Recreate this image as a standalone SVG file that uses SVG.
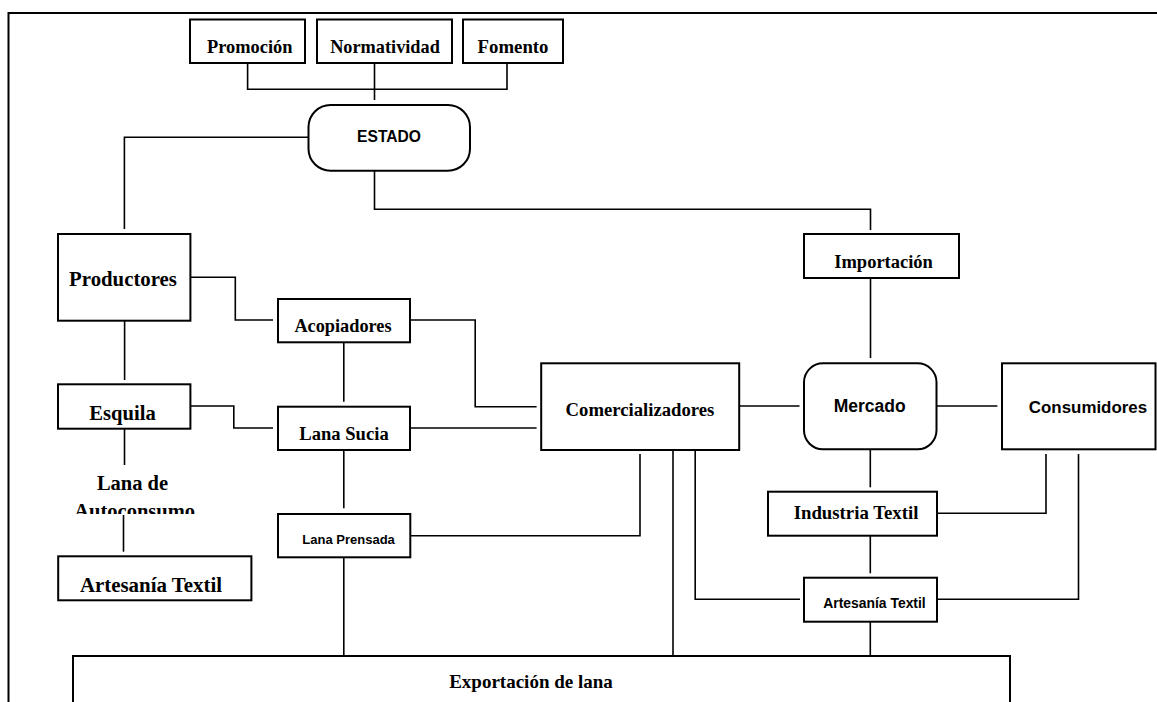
<svg xmlns="http://www.w3.org/2000/svg" width="1157" height="702" viewBox="0 0 1157 702">
<style>
.bx{fill:#fff;stroke:#000;stroke-width:2}
.ln{fill:none;stroke:#000;stroke-width:1.6}
.fr{fill:none;stroke:#000;stroke-width:2}
.t{font-family:"Liberation Serif","Times New Roman",serif;font-weight:bold;fill:#000;text-anchor:middle}
.s{font-family:"Liberation Sans",Arial,sans-serif;font-weight:bold;fill:#000;text-anchor:middle}
</style>
<defs>
<clipPath id="clipAuto"><rect x="0" y="0" width="400" height="514"/></clipPath>
</defs>
<rect width="1157" height="702" fill="#fff"/>
<path class="fr" d="M8.5,702 V13 H1157"/>
<g id="connectors">
<path class="ln" d="M247.6,63 V89.3 H507 V63"/>
<path class="ln" d="M374.5,63 V100"/>
<path class="ln" d="M308,137.3 H124.4 V229"/>
<path class="ln" d="M374.5,171 V209.3 H870.5 V230"/>
<path class="ln" d="M870.5,278 V358"/>
<path class="ln" d="M190,277.3 H235.3 V320 H273"/>
<path class="ln" d="M410,320 H475.2 V406.7 H536.6"/>
<path class="ln" d="M343.8,342 V401.7"/>
<path class="ln" d="M124.6,321 V380"/>
<path class="ln" d="M190,406 H233.8 V428 H273"/>
<path class="ln" d="M410,428 H536.6"/>
<path class="ln" d="M124.5,429 V465"/>
<path class="ln" d="M123.5,515 V551.7"/>
<path class="ln" d="M343.8,450 V508.3"/>
<path class="ln" d="M410,535.7 H640 V454"/>
<path class="ln" d="M673,450 V659"/>
<path class="ln" d="M695.2,450 V599.3 H800"/>
<path class="ln" d="M343.8,557 V659"/>
<path class="ln" d="M739,406 H799.5"/>
<path class="ln" d="M936,406 H997.4"/>
<path class="ln" d="M870.3,450 V487.3"/>
<path class="ln" d="M937,513.3 H1046 V454"/>
<path class="ln" d="M870.3,536 V573.3"/>
<path class="ln" d="M937,599.3 H1078.5 V454"/>
<path class="ln" d="M870.3,622 V659"/>
</g>
<g id="promocion"><rect class="bx" x="190" y="19.5" width="115" height="43.5"/><text class="t" x="249.7" y="53" font-size="18.4">Promoción</text></g>
<g id="normatividad"><rect class="bx" x="317" y="19.5" width="135" height="43.5"/><text class="t" x="385" y="53" font-size="18.3">Normatividad</text></g>
<g id="fomento"><rect class="bx" x="463" y="19.5" width="100" height="43.5"/><text class="t" x="513" y="53" font-size="18.8">Fomento</text></g>
<g id="estado"><rect class="bx" x="308.5" y="105" width="161.5" height="65.7" rx="22" ry="22"/><text class="s" x="389" y="141.7" font-size="15.6">ESTADO</text></g>
<g id="importacion"><rect class="bx" x="804" y="234" width="155" height="44"/><text class="t" x="883.6" y="268.3" font-size="18.5">Importación</text></g>
<g id="productores"><rect class="bx" x="58" y="234" width="132.4" height="86.7"/><text class="t" x="123" y="285.7" font-size="20.8">Productores</text></g>
<g id="acopiadores"><rect class="bx" x="278" y="299" width="132" height="43.3"/><text class="t" x="343" y="332.3" font-size="18.3">Acopiadores</text></g>
<g id="esquila"><rect class="bx" x="58" y="384.3" width="132.4" height="44.4"/><text class="t" x="122.5" y="420" font-size="20.6">Esquila</text></g>
<g id="lanasucia"><rect class="bx" x="278" y="406.7" width="132" height="43.3"/><text class="t" x="344" y="440" font-size="18.6">Lana Sucia</text></g>
<g id="comercializadores"><rect class="bx" x="541.2" y="363.3" width="198" height="86.7"/><text class="t" x="640" y="416" font-size="18.7">Comercializadores</text></g>
<g id="mercado"><rect class="bx" x="804" y="363.3" width="132.5" height="86" rx="19" ry="19"/><text class="s" x="869.7" y="411.7" font-size="17.5">Mercado</text></g>
<g id="consumidores"><rect class="bx" x="1002" y="363.3" width="153.5" height="86"/><text class="s" x="1088" y="412.7" font-size="16.9">Consumidores</text></g>
<g id="lanaautoconsumo"><text class="t" x="132.5" y="490" font-size="20.5">Lana de</text><text class="t" x="134.7" y="517.5" font-size="20.5" clip-path="url(#clipAuto)">Autoconsumo</text></g>
<g id="artesania1"><rect class="bx" x="58.2" y="556.3" width="193.2" height="44"/><text class="t" x="151" y="591.7" font-size="20.9">Artesanía Textil</text></g>
<g id="lanaprensada"><rect class="bx" x="278" y="514" width="132.3" height="43.3"/><text class="s" x="348.6" y="544" font-size="13">Lana Prensada</text></g>
<g id="industria"><rect class="bx" x="768" y="491.7" width="169" height="44"/><text class="t" x="856" y="519.3" font-size="18.8">Industria Textil</text></g>
<g id="artesania2"><rect class="bx" x="804" y="577.7" width="133" height="44"/><text class="s" x="874.5" y="608" font-size="13.9">Artesanía Textil</text></g>
<g id="exportacion"><path class="bx" d="M73,710 V656 H1010 V710"/><text class="t" x="531" y="688.3" font-size="19">Exportación de lana</text></g>
</svg>
